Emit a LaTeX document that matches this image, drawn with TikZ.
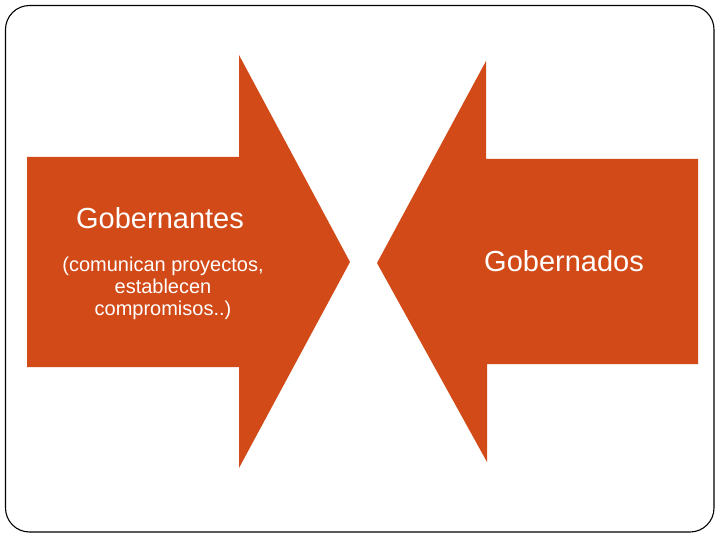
\documentclass[tikz,border=0pt]{standalone}
\usepackage{fontspec}
\setmainfont{Liberation Sans}
\definecolor{arroworange}{RGB}{209,74,24}
\begin{document}
\begin{tikzpicture}[x=1pt,y=-1pt,
  arrowshape/.style={fill=arroworange,draw=none},
  frame/.style={draw=black,line width=1.1pt,rounded corners=24pt},
  bigtext/.style={text=white,inner sep=0pt,anchor=base,font=\fontsize{29}{34}\selectfont},
  smalltext/.style={text=white,inner sep=0pt,anchor=north,align=center,font=\fontsize{20}{22}\selectfont}]
\useasboundingbox (0,0) rectangle (720,540);
\draw[frame] (5.5,5.5) rectangle (714,532);
\fill[arrowshape] (27,157) -- (239,157) -- (239,55) -- (350,262) -- (239,468) -- (239,367) -- (27,367) -- cycle;
\fill[arrowshape] (698,159) -- (486,159) -- (486,61) -- (377,263) -- (487,462) -- (487,364) -- (698,364) -- cycle;
\node[bigtext] (gob) at (160,229) {Gobernantes};
\node[smalltext] (sub) at (163,257) {(comunican proyectos,\\establecen\\compromisos..)};
\node[bigtext] (gobd) at (564,271) {Gobernados};
\end{tikzpicture}
\end{document}
